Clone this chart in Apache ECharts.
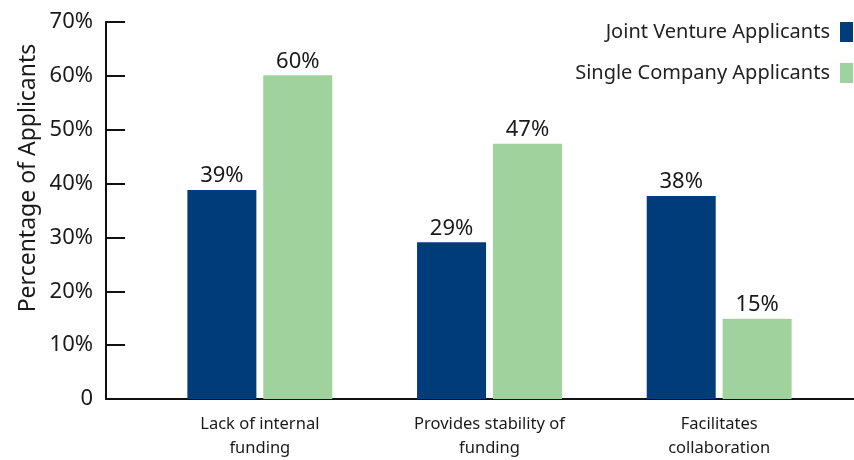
<!DOCTYPE html>
<html>
<head>
<meta charset="utf-8">
<script src="https://cdn.jsdelivr.net/npm/echarts@6/dist/echarts.min.js"></script>
<style>
html,body{margin:0;padding:0;background:#fff;}
#chart{width:854px;height:460px;}
</style>
</head>
<body>
<div id="chart"></div>
<script>
var categories = ['Lack of internal\nfunding', 'Provides stability of\nfunding', 'Facilitates\ncollaboration'];
var jointVenture = [38.8, 29.1, 37.7];
var singleCompany = [60.1, 47.4, 14.9];
var seriesNames = ['Joint Venture Applicants', 'Single Company Applicants'];
var yTicks = [0, 10, 20, 30, 40, 50, 60, 70];

var FONT = 'Noto Sans';
var TXT = '#1a1a1a';
var chart = echarts.init(document.getElementById('chart'), null, {renderer: 'canvas'});

function pct(v){ return v === 0 ? '0' : v + '%'; }

chart.setOption({
  animation: false,
  backgroundColor: '#ffffff',
  textStyle: {fontFamily: FONT, color: TXT},
  grid: [
    {left: 145, right: 20, top: 22, bottom: 61},
    {left: 106, right: 0, top: 22, bottom: 61}
  ],
  legend: {
    orient: 'vertical',
    right: 1,
    top: 22,
    padding: 0,
    align: 'right',
    itemWidth: 13,
    itemHeight: 20,
    itemGap: 21,
    icon: 'rect',
    textStyle: {fontFamily: FONT, fontSize: 20, color: '#222', padding: [0, 5, 0, 0]},
    data: seriesNames
  },
  xAxis: [
    {
      type: 'category', gridIndex: 0, data: categories,
      axisLine: {show: false}, axisTick: {show: false},
      axisLabel: {fontFamily: FONT, fontSize: 16.5, color: TXT, lineHeight: 24, margin: 13}
    },
    {
      type: 'value', gridIndex: 1, min: 0, max: 1,
      axisLine: {show: true, lineStyle: {color: '#111', width: 2}},
      axisTick: {show: false}, axisLabel: {show: false}, splitLine: {show: false}
    }
  ],
  yAxis: [
    {
      type: 'value', gridIndex: 0, min: yTicks[0], max: yTicks[yTicks.length - 1], interval: 10,
      show: false
    },
    {
      type: 'value', gridIndex: 1, min: yTicks[0], max: yTicks[yTicks.length - 1], interval: 10,
      axisLine: {show: true, lineStyle: {color: '#111', width: 2}},
      axisTick: {show: true, inside: true, length: 19, lineStyle: {color: '#111', width: 2}},
      splitLine: {show: false},
      axisLabel: {fontFamily: FONT, fontSize: 22, color: TXT, margin: 13, formatter: pct}
    }
  ],
  graphic: [{
    type: 'text',
    x: 28, y: 178,
    rotation: Math.PI / 2,
    style: {
      text: 'Percentage of Applicants',
      fontFamily: FONT, fontSize: 23, fill: TXT,
      textAlign: 'center', textVerticalAlign: 'middle'
    }
  }],
  series: [
    {
      name: seriesNames[0], type: 'bar', xAxisIndex: 0, yAxisIndex: 0,
      data: jointVenture, barWidth: 69, barGap: '10%',
      itemStyle: {color: '#003c7a'},
      label: {show: true, position: 'top', distance: 3, fontFamily: FONT, fontSize: 22, color: TXT,
        formatter: function(p){ return Math.round(p.value) + '%'; }}
    },
    {
      name: seriesNames[1], type: 'bar', xAxisIndex: 0, yAxisIndex: 0,
      data: singleCompany, barWidth: 69, barGap: '10%',
      itemStyle: {color: '#9fd29c'},
      label: {show: true, position: 'top', distance: 3, fontFamily: FONT, fontSize: 22, color: TXT,
        formatter: function(p){ return Math.round(p.value) + '%'; }}
    }
  ]
});
</script>
</body>
</html>
